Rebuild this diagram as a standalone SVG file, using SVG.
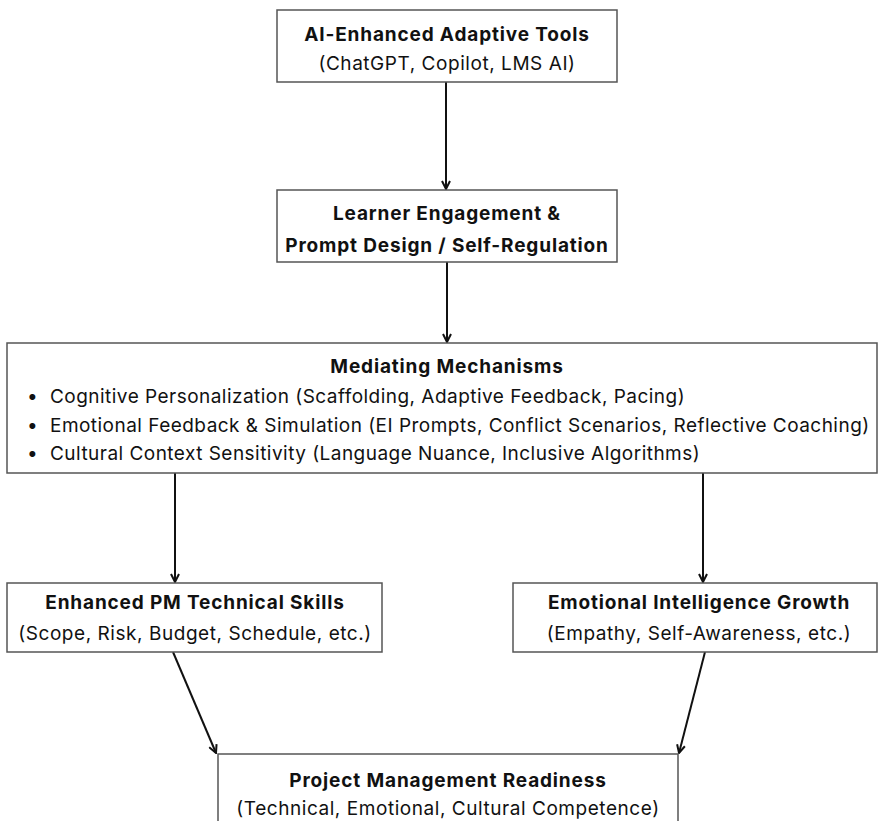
<svg xmlns="http://www.w3.org/2000/svg" width="879" height="821" viewBox="0 0 879 821">
<defs>
<style>
.box{fill:#fff;stroke:#555;stroke-width:1.5}
.t{font-family:Inter,"Liberation Sans",sans-serif;font-size:19px;letter-spacing:0.55px;fill:#111;text-anchor:middle}
.b{font-weight:700;letter-spacing:0.85px}
.l{text-anchor:start;letter-spacing:0.47px}
.c{stroke:#111;stroke-width:2;fill:none;marker-end:url(#ah)}
</style>
<marker id="ah" viewBox="0 0 10 10" refX="9" refY="5" markerWidth="5" markerHeight="5" orient="auto" markerUnits="strokeWidth">
<path d="M1,1 L9,5 L1,9" fill="none" stroke="#111" stroke-width="2"/>
</marker>
</defs>
<rect width="879" height="821" fill="#fff"/>
<g id="connectors">
<line class="c" x1="446" y1="82" x2="446" y2="189"/>
<line class="c" x1="447" y1="262" x2="447" y2="342"/>
<line class="c" x1="175" y1="473" x2="175" y2="582"/>
<line class="c" x1="703" y1="473" x2="703" y2="582"/>
<line class="c" x1="173" y1="652" x2="216" y2="753"/>
<line class="c" x1="705" y1="652" x2="679" y2="753"/>
</g>
<g id="n1">
<rect class="box" x="277" y="10" width="340" height="72"/>
<text class="t b" x="447" y="41">AI-Enhanced Adaptive Tools</text>
<text class="t" x="447" y="70">(ChatGPT, Copilot, LMS AI)</text>
</g>
<g id="n2">
<rect class="box" x="277" y="190" width="340" height="72"/>
<text class="t b" x="447" y="220">Learner Engagement &amp;</text>
<text class="t b" x="447" y="252">Prompt Design / Self-Regulation</text>
</g>
<g id="n3">
<rect class="box" x="7" y="343" width="870" height="130"/>
<text class="t b" x="447" y="373">Mediating Mechanisms</text>
<text class="t l" x="27" y="403">•</text><text class="t l" x="50" y="403">Cognitive Personalization (Scaffolding, Adaptive Feedback, Pacing)</text>
<text class="t l" x="27" y="432">•</text><text class="t l" x="50" y="432">Emotional Feedback &amp; Simulation (EI Prompts, Conflict Scenarios, Reflective Coaching)</text>
<text class="t l" x="27" y="460">•</text><text class="t l" x="50" y="460">Cultural Context Sensitivity (Language Nuance, Inclusive Algorithms)</text>
</g>
<g id="n4">
<rect class="box" x="7" y="583" width="375" height="69"/>
<text class="t b" x="195" y="609">Enhanced PM Technical Skills</text>
<text class="t" x="195" y="640">(Scope, Risk, Budget, Schedule, etc.)</text>
</g>
<g id="n5">
<rect class="box" x="513" y="583" width="364" height="69"/>
<text class="t b" x="699" y="609">Emotional Intelligence Growth</text>
<text class="t" x="699" y="640">(Empathy, Self-Awareness, etc.)</text>
</g>
<g id="n6">
<rect class="box" x="218" y="754" width="460" height="80"/>
<text class="t b" x="448" y="787">Project Management Readiness</text>
<text class="t" x="448" y="815">(Technical, Emotional, Cultural Competence)</text>
</g>
</svg>
